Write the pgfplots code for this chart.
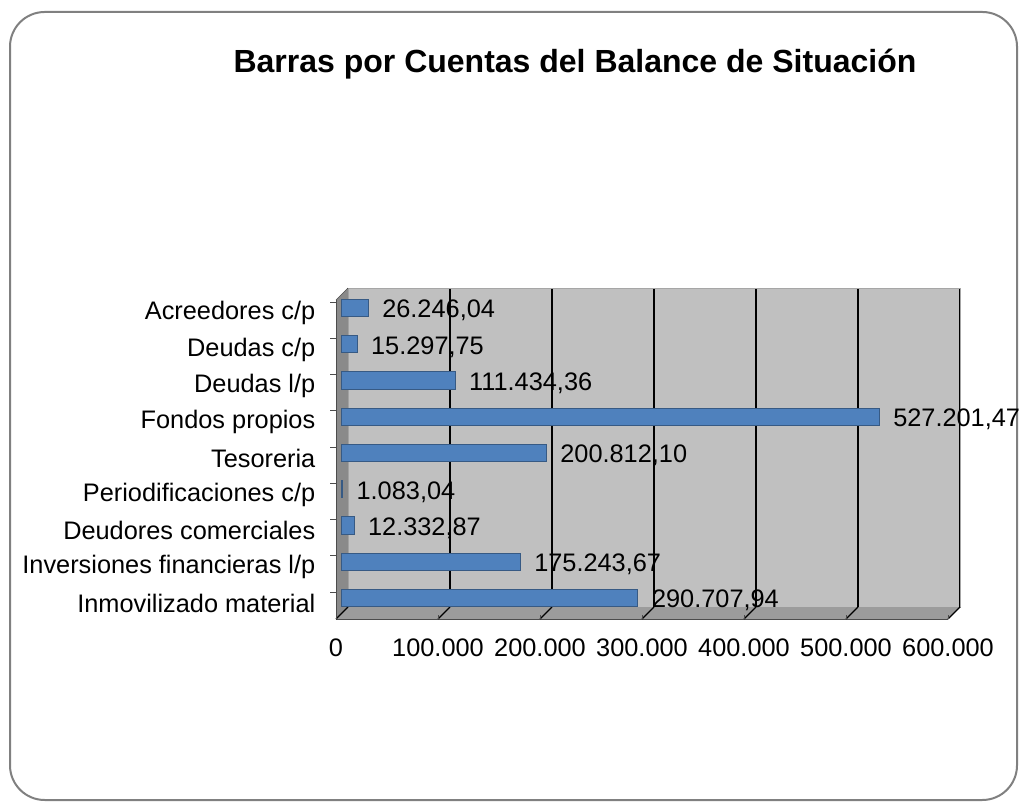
\documentclass[border=0pt]{standalone}
\usepackage{pgfplots}
\pgfplotsset{compat=1.18}
\usepackage{fontspec}
\setmainfont{Liberation Sans}
\definecolor{wallgray}{HTML}{C0C0C0}
\definecolor{floorgray}{HTML}{9C9C9C}
\definecolor{sidegray}{HTML}{8A8A8A}
\definecolor{barblue}{HTML}{4F81BD}
\definecolor{frameg}{HTML}{808080}
\begin{document}
\begin{tikzpicture}
\useasboundingbox (0,0) rectangle (764.25pt,602.25pt);
\draw[frameg, line width=1.5pt, rounded corners=26pt] (7.5pt,593.25pt) rectangle (762.75pt,2.25pt);
\node[font=\fontsize{24}{28}\selectfont\bfseries] at (431.25pt,554.5pt) {Barras por Cuentas del Balance de Situación};
\begin{axis}[
  at={(261pt,147pt)}, anchor=south west,
  scale only axis, width=459pt, height=239.25pt,
  xbar, bar width=13pt,
  xmin=0, xmax=600000, ymin=-0.25, ymax=8.55,
  scaled x ticks=false,
  clip=false,
  axis background/.style={fill=wallgray},
  axis line style={draw=gray!70},
  xmajorgrids, grid style={black, line width=1pt},
  xtick={0,100000,200000,300000,400000,500000,600000},
  xticklabels={0,100.000,200.000,300.000,400.000,500.000,600.000},
  ytick={0,1,2,3,4,5,6,7,8},
  yticklabels={Inmovilizado material,Inversiones financieras l/p,Deudores comerciales,Periodificaciones c/p,Tesoreria,Fondos propios,Deudas l/p,Deudas c/p,Acreedores c/p},
  major tick length=0pt,
  tick label style={font=\fontsize{19}{22}\selectfont},
  xticklabel style={xshift=-9pt, yshift=-20pt},
  yticklabel style={xshift=-21pt, yshift=-4pt},
  nodes near coords, point meta=explicit symbolic,
  nodes near coords style={font=\fontsize{19}{22}\selectfont, black, anchor=west, xshift=7pt, yshift=-2pt},
]
\path (rel axis cs:0,0) coordinate (bl) (rel axis cs:1,0) coordinate (br) (rel axis cs:0,1) coordinate (tl);
\fill[floorgray] (bl) -- (br) -- ([shift={(-9pt,-9pt)}]br) -- ([shift={(-9pt,-9pt)}]bl) -- cycle;
\fill[sidegray] (bl) -- (tl) -- ([shift={(-9pt,-9pt)}]tl) -- ([shift={(-9pt,-9pt)}]bl) -- cycle;
\draw[gray!60!black] ([shift={(-9pt,-9pt)}]tl) -- ([shift={(-9pt,-9pt)}]bl) -- ([shift={(-9pt,-9pt)}]br);
\draw[gray!60!black] (tl) -- ([shift={(-9pt,-9pt)}]tl);
\pgfplotsinvokeforeach{0,0.166667,0.333333,0.5,0.666667,0.833333,1}{
  \draw[black, line width=1pt] (rel axis cs:#1,0) -- ++(-9pt,-9pt);
  \draw[gray!60!black] (rel axis cs:#1,0) ++(-9pt,-9pt) -- ++(0,-4pt);
}
\pgfplotsinvokeforeach{0.5,1.5,2.5,3.5,4.5,5.5,6.5,7.5,8.5}{
  \draw[gray!60!black] (axis cs:0,#1) ++(-9pt,-9pt) -- ++(-4.5pt,0pt);
}
\addplot[fill=barblue, draw=barblue!70!black, line width=0.6pt, xshift=-5pt] table[x=x, y=y, meta=label, row sep=\\] {
x y label \\
290707.94 0 290.707,94 \\
175243.67 1 175.243,67 \\
12332.87 2 12.332,87 \\
1083.04 3 1.083,04 \\
200812.10 4 200.812,10 \\
527201.47 5 527.201,47 \\
111434.36 6 111.434,36 \\
15297.75 7 15.297,75 \\
26246.04 8 26.246,04 \\
};
\end{axis}
\end{tikzpicture}
\end{document}
